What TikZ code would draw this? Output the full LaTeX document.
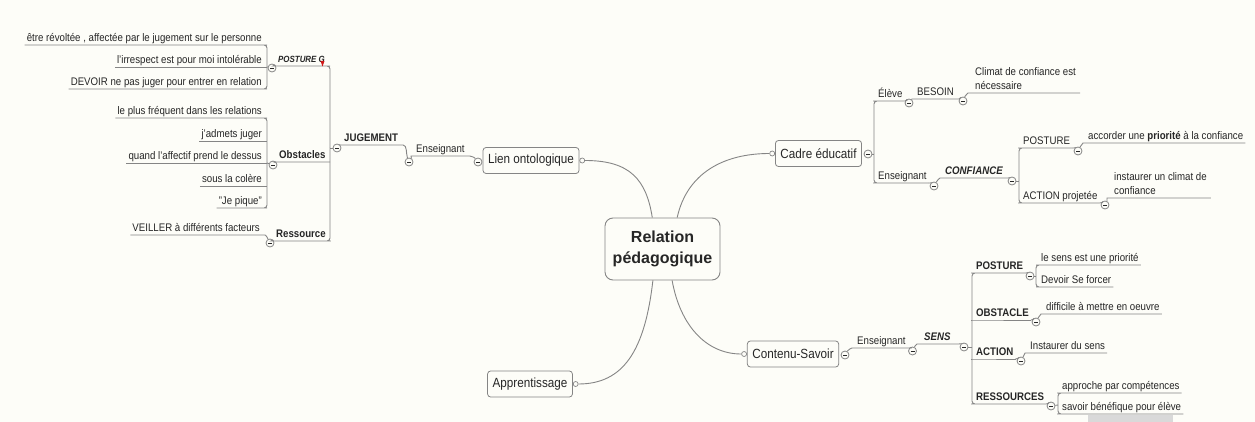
\documentclass[tikz,border=0pt]{standalone}
\usepackage{fontspec}
\setmainfont[FakeStretch=0.88]{Liberation Sans}
\newfontfamily\hubfont{Liberation Sans}
\definecolor{paper}{HTML}{FDFDF8}
\definecolor{wire}{HTML}{858585}
\definecolor{ink}{HTML}{262626}
\definecolor{flag}{HTML}{D01818}

\tikzset{
  wire/.style={draw=wire, line width=0.9pt, rounded corners=3pt},
  leaf/.style={font=\fontsize{11}{13}\selectfont, text=ink, inner xsep=2pt, inner ysep=0.5pt, text height=8pt, text depth=2.5pt},
  leafL/.style={leaf, anchor=south east},
  leafR/.style={leaf, anchor=south west},
  twoline/.style={font=\fontsize{11}{14}\selectfont, text=ink, inner xsep=4pt, inner ysep=3pt, align=left, anchor=south west},
  topic/.style={draw=wire, line width=0.8pt, rounded corners=3pt, fill=paper, font=\fontsize{13.3}{15}\selectfont, text=ink, minimum height=26pt, inner xsep=5pt},
  hub/.style={draw=wire, line width=0.9pt, rounded corners=8pt, fill=paper, font=\hubfont\bfseries\fontsize{16}{21}\selectfont, text=ink, minimum width=115pt, minimum height=62pt, align=center},
  minus/.style={circle, draw=wire, line width=0.8pt, fill=paper, minimum size=8pt, inner sep=0pt,
    path picture={\draw[ink, line width=0.8pt] ([xshift=2pt]path picture bounding box.west) -- ([xshift=-2pt]path picture bounding box.east);}},
  knob/.style={circle, draw=wire, line width=0.7pt, fill=paper, minimum size=5pt, inner sep=0pt},
}

\begin{document}
\begin{tikzpicture}[x=1pt, y=-1pt]
\path[use as bounding box, fill=paper] (0,0) rectangle (1255,422);

% central topic and main branches
\node[hub] (rel) at (662.5,249) {Relation\\pédagogique};
\node[topic] (lien) at (531,160.5) {Lien ontologique};
\node[knob, anchor=west] (lienK) at (lien.east) {};
\node[minus] (lienM) at (478,162) {};
\node[topic] (cadre) at (818.5,153.5) {Cadre éducatif};
\node[knob, anchor=east] (cadreK) at (cadre.west) {};
\node[minus] (cadreM) at (868,154) {};
\node[topic] (contenu) at (793,354) {Contenu-Savoir};
\node[knob, anchor=east] (contenuK) at (contenu.west) {};
\node[minus] (contenuM) at (845,355) {};
\node[topic] (appr) at (530,384) {Apprentissage};
\node[knob, anchor=west] (apprK) at (appr.east) {};

\draw[wire] (lienK.east) .. controls +(45,0) and +(-6,-38) .. (rel.108);
\draw[wire] (rel.65) .. controls +(10,-45) and +(-45,0) .. (cadreK.west);
\draw[wire] (rel.-73) .. controls +(8,45) and +(-35,0) .. (contenuK.west);
\draw[wire] (rel.-107) .. controls +(-8,70) and +(45,0) .. (apprK.east);

% ---- Lien ontologique branch (left) ----
\node[leafR] (ensL) at (414,156) {Enseignant};
\node[minus] (ensLM) at (409,162) {};
\draw[wire] (ensLM) .. controls +(3,-4) and +(-4,0) .. (ensL.south west) -- (ensL.south east) .. controls +(5,0) and +(-3,-4) .. (lienM);

\node[leafR] (jug) at (342,145) {\bfseries JUGEMENT};
\node[minus] (jugM) at (337,148) {};
\coordinate (jugS) at (330,148);
\draw[wire] (jugM) .. controls +(3,-3) and +(-3,0) .. (jug.south west) -- (jug.south east) .. controls +(7,0) and +(-3,-8) .. (ensLM);
\draw[wire] (jugM) -- (jugS);

% POSTURE G
\node[leafR, font=\fontsize{9}{10}\selectfont\bfseries\itshape] (pg) at (276,66) {POSTURE G};
\node[minus] (pgM) at (272,68) {};
\coordinate (pgS) at (267,67);
\draw[wire] (pgM) .. controls +(2,-2) and +(-2,0) .. (pg.south west) -- (pg.south east) -| (jugS);
\fill[flag] (320.5,61) -- (324.5,61) -- (322.5,66.5) -- cycle;
\node[leafL] (a1) at (264,45) {être révoltée , affectée par le jugement sur le personne};
\node[leafL] (a2) at (264,67) {l'irrespect est pour moi intolérable};
\node[leafL] (a3) at (264,89) {DEVOIR ne pas juger pour entrer en relation};
\draw[wire] (a1.south west) -- (a1.south east) -| (pgS);
\draw[wire] (a2.south west) -- (a2.south east -| pgS);
\draw[wire] (a3.south west) -- (a3.south east) -| (pgS);
\draw[wire] (pgS) -- (pgM);

% Obstacles
\node[leafR] (obs) at (277,162) {\bfseries Obstacles};
\node[minus] (obsM) at (273,165) {};
\coordinate (obsS) at (267,163);
\draw[wire] (obsM) .. controls +(2,-2) and +(-2,0) .. (obs.south west) -- (obs.south east -| jugS);
\node[leafL] (b1) at (264,118) {le plus fréquent dans les relations};
\node[leafL] (b2) at (264,141) {j'admets juger};
\node[leafL] (b3) at (264,163) {quand l'affectif prend le dessus};
\node[leafL] (b4) at (264,186) {sous la colère};
\node[leafL] (b5) at (264,208) {"Je pique"};
\draw[wire] (b1.south west) -- (b1.south east) -| (obsS);
\draw[wire] (b2.south west) -- (b2.south east -| obsS);
\draw[wire] (b3.south west) -- (b3.south east -| obsS);
\draw[wire] (b4.south west) -- (b4.south east -| obsS);
\draw[wire] (b5.south west) -- (b5.south east) -| (obsS);
\draw[wire] (obsS) -- (obsM);

% Ressource
\node[leafR] (res) at (274,241) {\bfseries Ressource};
\node[minus] (resM) at (270,243) {};
\draw[wire] (resM) .. controls +(2,-2) and +(-2,0) .. (res.south west) -- (res.south east) -| (jugS);
\node[leafL] (v1) at (262,235) {VEILLER à différents facteurs};
\draw[wire] (v1.south west) -- (v1.south east) .. controls +(4,0) and +(-2,-4) .. (resM);

% ---- Cadre éducatif branch (right) ----
\coordinate (cadS) at (874,154);
\draw[wire] (cadreM) -- (cadS);
\node[leafR] (eleve) at (876,101) {Élève};
\node[minus] (eleveM) at (909,103) {};
\node[leafR] (besoin) at (915,99) {BESOIN};
\node[minus] (besoinM) at (963,101) {};
\node[twoline] (climat) at (971,93) {Climat de confiance est\\nécessaire};
\draw[wire] (eleve.south east) -- (eleve.south west) -| (cadS);
\draw[wire] (eleve.south east) .. controls +(3,0) and +(-2,-3) .. (eleveM);
\draw[wire] (eleveM) .. controls +(2,-3) and +(-3,0) .. (besoin.south west) -- (besoin.south east) .. controls +(3,0) and +(-2,-3) .. (besoinM);
\draw[wire] (besoinM) .. controls +(2,-5) and +(-3,0) .. (climat.south west) -- (climat.south east);

\node[leafR] (ens2) at (876,183) {Enseignant};
\node[minus] (ens2M) at (934,186) {};
\node[leafR] (conf) at (943,178) {\bfseries\itshape CONFIANCE};
\node[minus] (confM) at (1012,181) {};
\coordinate (confS) at (1019,181);
\draw[wire] (ens2.south east) -- (ens2.south west) -| (cadS);
\draw[wire] (ens2.south east) .. controls +(3,0) and +(-2,-3) .. (ens2M);
\draw[wire] (ens2M) .. controls +(3,-5) and +(-4,0) .. (conf.south west) -- (conf.south east) .. controls +(3,0) and +(-2,-3) .. (confM);
\draw[wire] (confM) -- (confS);

\node[leafR] (post1) at (1021,148) {POSTURE};
\node[minus] (post1M) at (1078,151) {};
\node[leafR] (acc) at (1086,143) {accorder une \textbf{priorité} à la confiance};
\draw[wire] (post1.south east) -- (post1.south west) -| (confS);
\draw[wire] (post1.south east) .. controls +(3,0) and +(-2,-3) .. (post1M);
\draw[wire] (post1M) .. controls +(2,-4) and +(-3,0) .. (acc.south west) -- (acc.south east);

\node[leafR] (act1) at (1021,203) {ACTION projetée};
\node[minus] (act1M) at (1105,205) {};
\node[twoline] (inst) at (1110,198) {instaurer un climat de\\confiance};
\draw[wire] (act1.south east) -- (act1.south west) -| (confS);
\draw[wire] (act1.south east) .. controls +(3,0) and +(-2,-3) .. (act1M);
\draw[wire] (act1M) .. controls +(2,-4) and +(-3,0) .. (inst.south west) -- (inst.south east);

% ---- Contenu-Savoir branch (right) ----
\node[leafR] (ens3) at (855,348) {Enseignant};
\node[minus] (ens3M) at (912.5,351) {};
\node[leafR, inner xsep=4pt] (sens) at (920,344) {\bfseries\itshape SENS};
\node[minus] (sensM) at (964,347) {};
\coordinate (sensS) at (972,347);
\draw[wire] (contenuM) .. controls +(3,-5) and +(-4,0) .. (ens3.south west) -- (ens3.south east) .. controls +(3,0) and +(-2,-3) .. (ens3M);
\draw[wire] (ens3M) .. controls +(2,-4) and +(-4,0) .. (sens.south west) -- (sens.south east) .. controls +(3,0) and +(-2,-3) .. (sensM);
\draw[wire] (sensM) -- (sensS);

\node[leafR] (p2) at (974,273) {\bfseries POSTURE};
\node[minus] (p2M) at (1030,276) {};
\coordinate (p2S) at (1036,276);
\draw[wire] (p2.south east) -- (p2.south west) -| (sensS);
\draw[wire] (p2.south east) .. controls +(2,0) and +(-2,-3) .. (p2M);
\draw[wire] (p2M) -- (p2S);
\node[leafR] (ls) at (1039,265) {le sens est une priorité};
\node[leafR] (dsf) at (1039,287) {Devoir Se forcer};
\draw[wire] (ls.south east) -- (ls.south west) -| (p2S);
\draw[wire] (dsf.south east) -- (dsf.south west) -| (p2S);

\node[leafR] (o2) at (974,320) {\bfseries OBSTACLE};
\node[minus] (o2M) at (1036,322) {};
\node[leafR] (diff) at (1044,314) {difficile à mettre en oeuvre};
\draw[wire] (o2.south east) -- (o2.south west) -- (o2.south west -| sensS);
\draw[wire] (o2.south east) .. controls +(2,0) and +(-2,-3) .. (o2M);
\draw[wire] (o2M) .. controls +(2,-4) and +(-3,0) .. (diff.south west) -- (diff.south east);

\node[leafR] (a2b) at (974,359) {\bfseries ACTION};
\node[minus] (a2bM) at (1021,361) {};
\node[leafR] (ids) at (1028,353) {Instaurer du sens};
\draw[wire] (a2b.south east) -- (a2b.south west) -- (a2b.south west -| sensS);
\draw[wire] (a2b.south east) .. controls +(2,0) and +(-2,-3) .. (a2bM);
\draw[wire] (a2bM) .. controls +(2,-4) and +(-3,0) .. (ids.south west) -- (ids.south east);

\node[leafR] (r2) at (974,404) {\bfseries RESSOURCES};
\node[minus] (r2M) at (1051,406) {};
\coordinate (r2S) at (1058,405);
\draw[wire] (r2.south east) -- (r2.south west) -| (sensS);
\draw[wire] (r2.south east) .. controls +(2,0) and +(-2,-3) .. (r2M);
\draw[wire] (r2M) -- (r2S);
\node[leafR] (app) at (1060,393) {approche par compétences};
\node[leafR] (sav) at (1060,414) {savoir bénéfique pour élève};
\draw[wire] (app.south east) -- (app.south west) -| (r2S);
\draw[wire] (sav.south east) -- (sav.south west) -| (r2S);

% grey strip along the lower edge
\fill[black!15] (1088,415) rectangle (1173,422);
\end{tikzpicture}
\end{document}
